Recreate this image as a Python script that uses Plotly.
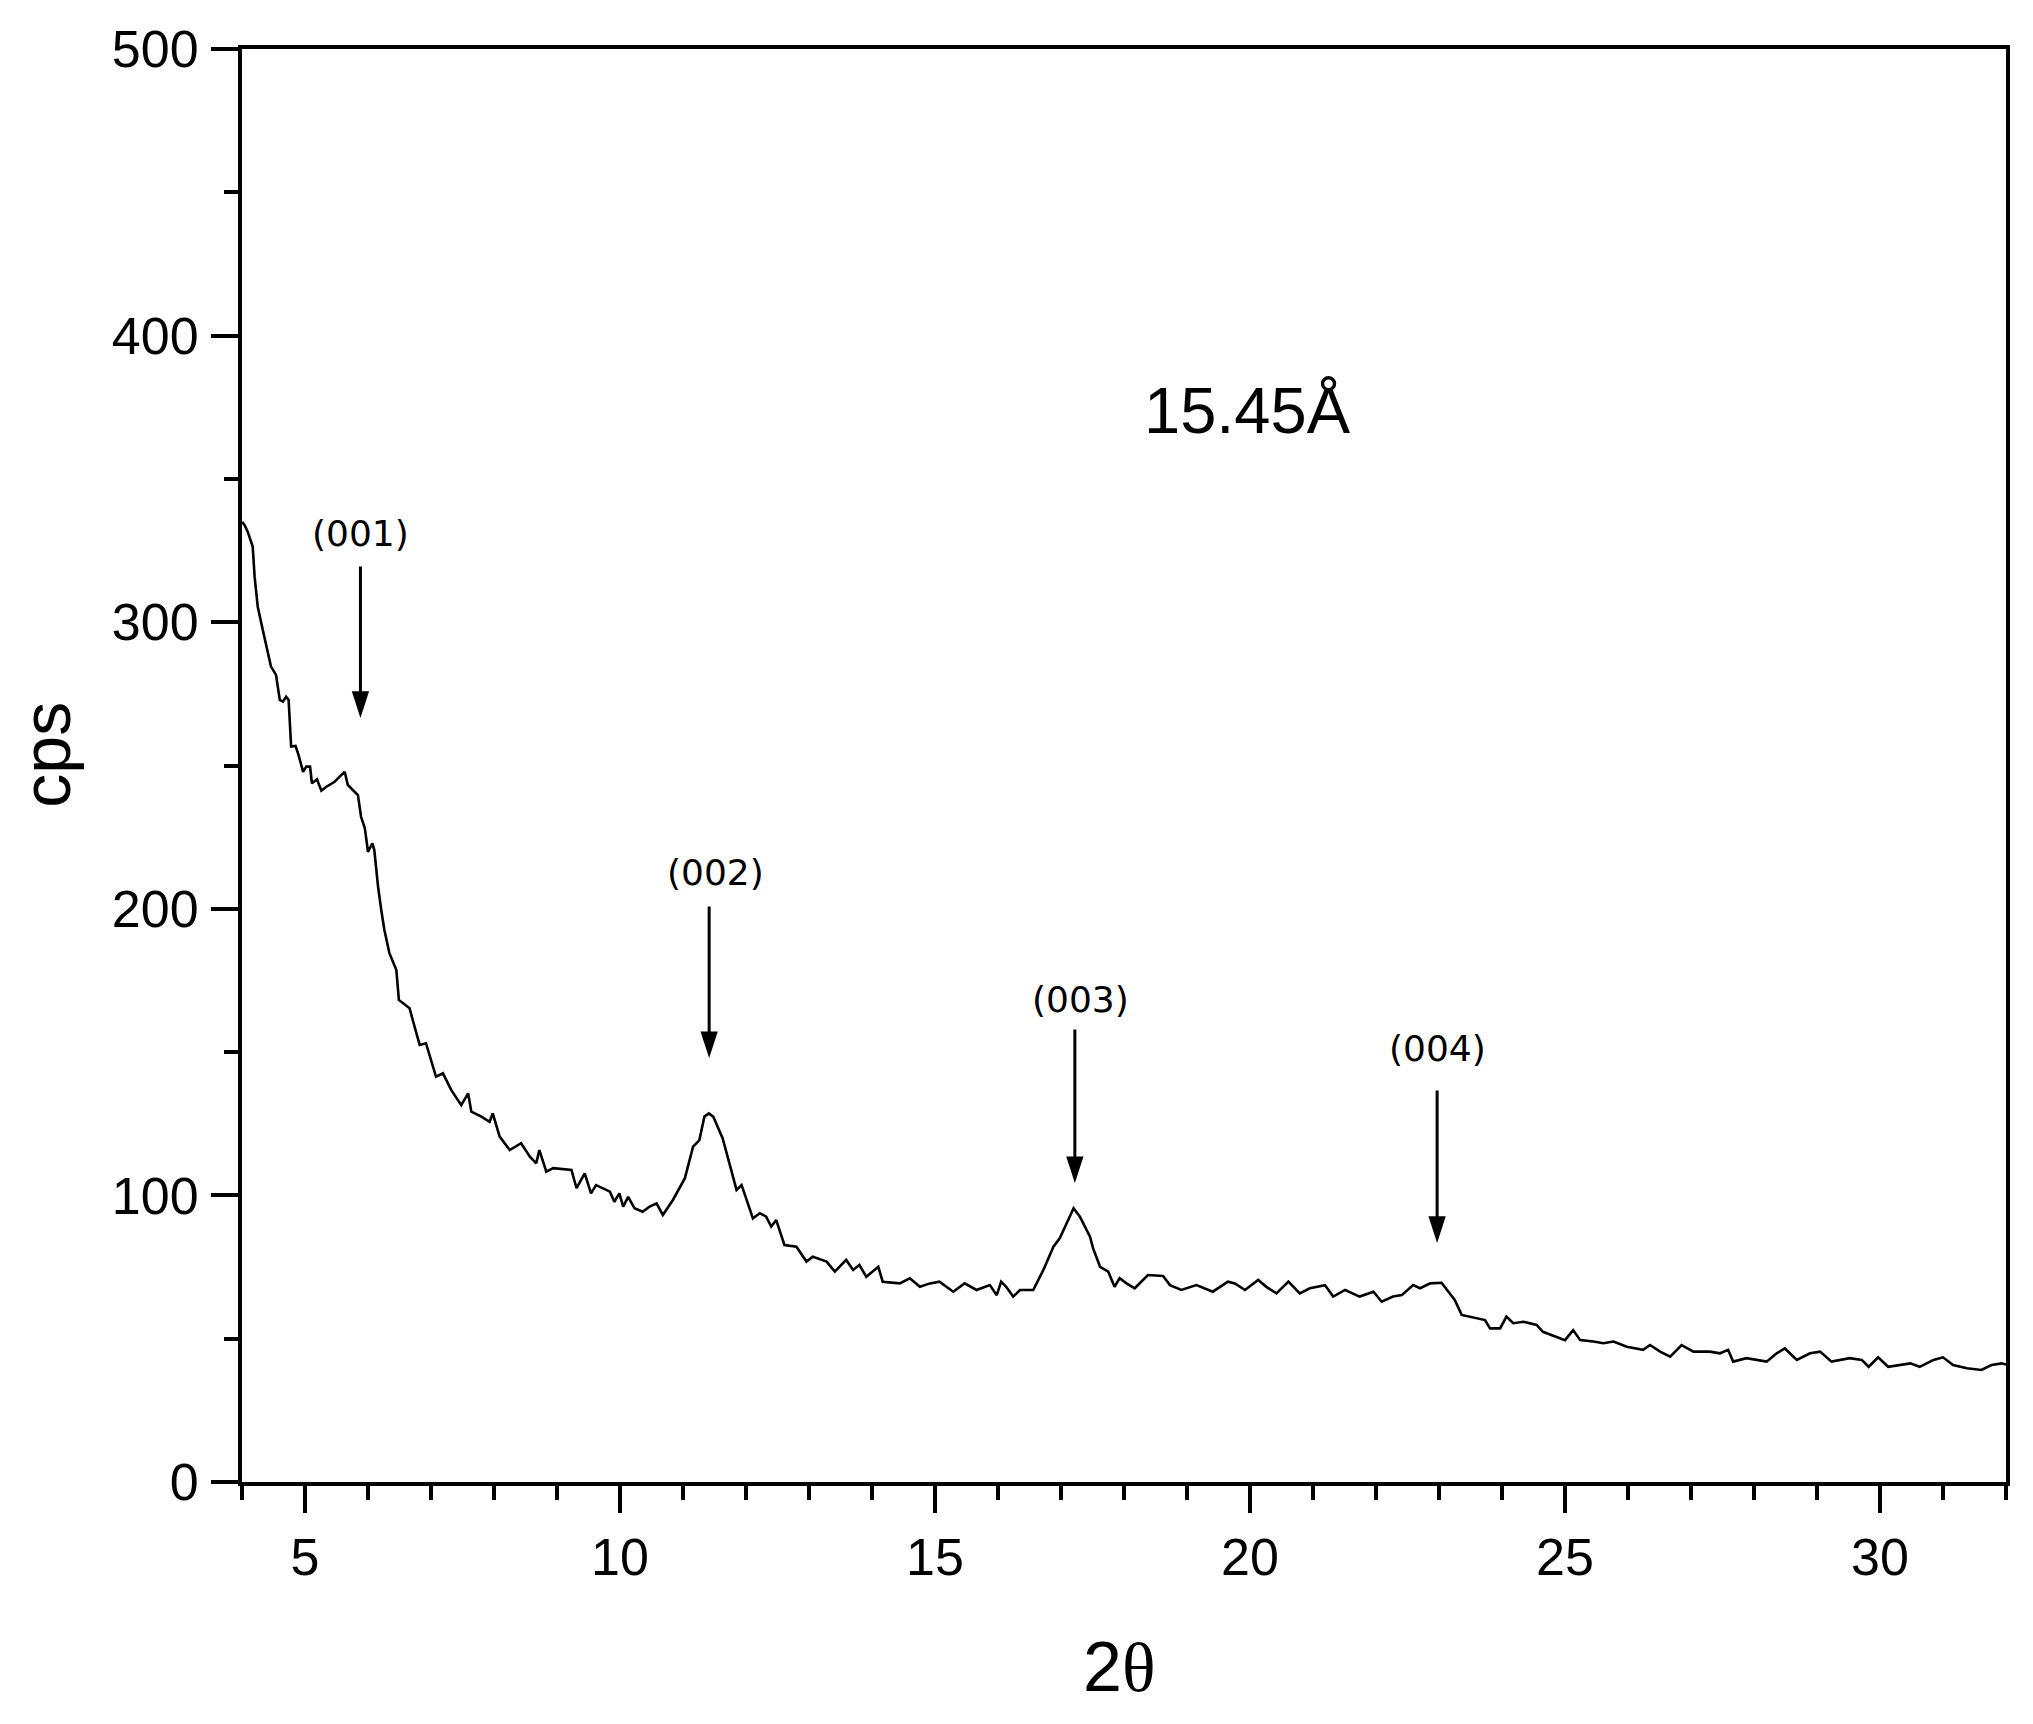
import plotly.graph_objects as go

# ---- data ----
two_theta = [4.00, 4.04, 4.09, 4.17, 4.20, 4.25, 4.33, 4.41, 4.46, 4.54, 4.60, 4.65, 4.70, 4.74, 4.78, 4.85, 4.89, 4.97, 5.02, 5.08,
             5.11, 5.19, 5.26, 5.34, 5.47, 5.55, 5.63, 5.68, 5.84, 5.89, 5.95, 6.00, 6.07, 6.10, 6.16, 6.21, 6.26, 6.34, 6.45, 6.49,
             6.66, 6.71,
             6.82, 6.92, 7.08, 7.19, 7.32, 7.48, 7.59, 7.64, 7.80, 7.93, 7.98, 8.09, 8.25, 8.43, 8.57, 8.67, 8.72, 8.83, 8.94, 9.23,
             9.31, 9.44, 9.54, 9.62, 9.84, 9.91, 9.99, 10.05, 10.13, 10.23, 10.36, 10.47, 10.58, 10.68, 10.84, 11.03, 11.16, 11.26, 11.34, 11.41,
             11.48, 11.63, 11.77, 11.85, 11.93, 12.11, 12.22, 12.32, 12.40, 12.48, 12.61, 12.80, 12.96, 13.06, 13.28, 13.41, 13.59, 13.70, 13.80, 13.91,
             14.10, 14.17,
             14.44, 14.60, 14.76, 14.92, 15.07, 15.29, 15.47, 15.66, 15.87, 15.98, 16.05, 16.13, 16.24, 16.35, 16.56, 16.72, 16.88, 16.98, 17.09, 17.20,
             17.30, 17.38, 17.46, 17.51, 17.62, 17.75, 17.85, 17.93, 18.04, 18.17, 18.38, 18.62, 18.73, 18.91, 19.15, 19.41, 19.65, 19.76, 19.92, 20.13,
             20.26, 20.42, 20.61, 20.79, 20.95, 21.19, 21.32, 21.51,
             21.74, 21.96, 22.09, 22.27, 22.41, 22.59, 22.70, 22.86, 23.04, 23.15, 23.25, 23.36, 23.49, 23.73, 23.81, 23.97, 24.07, 24.18, 24.34, 24.55,
             24.65, 24.87, 25.00, 25.13, 25.24, 25.45, 25.61, 25.77, 25.98, 26.24, 26.35, 26.51, 26.67, 26.85, 27.04, 27.30, 27.46, 27.59, 27.67, 27.88,
             28.20, 28.36, 28.49, 28.68,
             28.89, 29.05, 29.23, 29.52, 29.71, 29.82, 29.97, 30.13, 30.31, 30.48, 30.63, 30.85, 31.00, 31.16, 31.38, 31.61, 31.77, 31.93, 32.00]

cps = [335, 333.9, 331.6, 326.4, 315.9, 305.4, 297.3, 289.1, 284.5, 281.6, 272.9, 272.3, 274.0, 272.9, 256.6, 256.8, 254.2, 247.8, 249.6, 249.6,
       243.8, 245.2, 241.2, 242.6, 244.3, 246.1, 247.8, 243.2, 239.7, 232.1, 228.1, 219.9, 222.8, 220.5, 207.7, 199.6, 192.6, 184.5, 178.6, 168.2,
       165.3, 161.2,
       152.5, 153.1, 141.4, 142.6, 136.8, 131.5, 135.6, 129.2, 127.5, 125.7, 128.6, 120.5, 115.8, 118.2, 113.5, 111.2, 115.8, 108.3, 109.5, 108.9,
       102.5, 107.7, 100.7, 103.6, 101.3, 97.8, 100.7, 96.1, 99.5, 95.5, 94.3, 96.1, 97.2, 93.2, 98.4, 106.0, 117.0, 119.3, 127.5, 128.6,
       127.5, 119.9, 108.9, 101.9, 103.6, 92.0, 93.8, 92.6, 89.1, 91.4, 82.7, 82.1, 76.9, 78.6, 76.9, 73.4, 77.5, 74.0, 75.7, 71.6,
       75.1, 69.9,
       69.3, 71.1, 68.1, 69.3, 69.9, 66.4, 69.3, 67.0, 68.7, 65.2, 69.9, 68.1, 64.7, 67.0, 67.0, 74.0, 82.1, 85.0, 90.3, 95.5,
       92.6, 89.1, 85.6, 81.5, 75.1, 73.4, 68.1, 71.1, 69.3, 67.6, 72.2, 71.9, 68.7, 67.0, 68.7, 66.4, 69.9, 69.3, 67.0, 70.5,
       68.1, 65.8, 69.9, 65.8, 67.6, 68.7, 64.7, 67.0,
       64.7, 66.4, 62.9, 64.7, 65.2, 68.7, 67.6, 69.3, 69.5, 66.4, 63.5, 58.3, 57.7, 56.5, 53.6, 53.6, 57.7, 55.4, 55.9, 54.8,
       52.4, 50.7, 49.5, 53.0, 49.5, 49.0, 48.4, 49.0, 47.2, 46.1, 47.8, 45.5, 43.7, 47.8, 45.5, 45.5, 44.9, 46.1, 42.0, 43.2,
       42.0, 44.9, 46.6, 42.6,
       44.9, 45.5, 42.0, 43.2, 42.6, 40.2, 43.5, 40.2, 40.8, 41.4, 40.2, 42.6, 43.5, 40.8, 39.7, 39.1, 40.8, 41.4, 41.0]

assert len(two_theta) == len(cps)

peak_labels = ["(001)", "(002)", "(003)", "(004)"]
peak_pos = [5.88, 11.415, 17.22, 22.97]
arrow_tip = [266.6, 147.9, 104.3, 83.4]
arrow_tail = [320.0, 201.3, 158.4, 137.1]
label_y = [331.1, 212.5, 168.2, 151.1]
label_x = [5.88, 11.52, 17.31, 22.97]

x_ticks = [5, 10, 15, 20, 25, 30]
y_ticks = [0, 100, 200, 300, 400, 500]

spacing_text = "15.45Å"

# ---- figure ----
fig = go.Figure()
fig.add_trace(go.Scatter(x=two_theta, y=cps, mode="lines",
                         line=dict(color="black", width=2.6), showlegend=False,
                         hoverinfo="x+y"))

# arrow heads at the peak markers
fig.add_trace(go.Scatter(x=peak_pos, y=arrow_tip, mode="markers",
                         marker=dict(symbol="arrow", angle=180, size=28, color="black",
                                     line=dict(width=0)),
                         showlegend=False, hoverinfo="skip"))

tick_font = dict(family="Liberation Sans, Arial, sans-serif", size=52, color="black")

fig.update_xaxes(range=[4, 32], tickvals=x_ticks, ticktext=[str(v) for v in x_ticks],
                 ticks="outside", ticklen=27, tickwidth=4, tickcolor="black",
                 minor=dict(ticks="outside", ticklen=14, tickwidth=4, tickcolor="black", dtick=1, tick0=4),
                 showline=True, linewidth=4, linecolor="black", mirror=True,
                 showgrid=False, zeroline=False, tickfont=tick_font, ticklabelstandoff=0)
fig.update_yaxes(range=[0, 500], tickvals=y_ticks, ticktext=[str(v) for v in y_ticks],
                 ticks="outside", ticklen=27, tickwidth=4, tickcolor="black",
                 minor=dict(ticks="outside", ticklen=14, tickwidth=4, tickcolor="black", dtick=50, tick0=0),
                 showline=True, linewidth=4, linecolor="black", mirror=True,
                 showgrid=False, zeroline=False, tickfont=tick_font, ticklabelstandoff=2)

annotations = []
for lab, px, tip, tail, lx, ly in zip(peak_labels, peak_pos, arrow_tip, arrow_tail, label_x, label_y):
    annotations.append(dict(x=px, y=tip, ax=px, ay=tail, xref="x", yref="y", axref="x", ayref="y",
                            text="", showarrow=True, arrowhead=0, arrowwidth=3,
                            arrowcolor="black", standoff=8))
    annotations.append(dict(x=lx, y=ly, xref="x", yref="y", text=lab, showarrow=False,
                            font=dict(family="DejaVu Sans", size=36, color="black"),
                            xanchor="center", yanchor="middle"))

annotations.append(dict(x=19.955, y=374, xref="x", yref="y", text=spacing_text, showarrow=False,
                        font=dict(family="Liberation Sans, Arial, sans-serif", size=65, color="black"),
                        xanchor="center", yanchor="middle"))

# axis titles
annotations.append(dict(x=-0.111, y=0.5077, xref="paper", yref="paper", text="cps", textangle=-90,
                        showarrow=False, xanchor="center", yanchor="middle",
                        font=dict(family="Liberation Sans, Arial, sans-serif", size=68, color="black")))
annotations.append(dict(x=0.4974, y=-0.129, xref="paper", yref="paper",
                        text="2<span style='font-family:Liberation Serif, Times New Roman, serif'>θ</span>",
                        showarrow=False, xanchor="center", yanchor="middle",
                        font=dict(family="Liberation Sans, Arial, sans-serif", size=70, color="black")))

fig.update_layout(width=2025, height=1716,
                  margin=dict(l=234, r=27, t=41, b=242),
                  paper_bgcolor="white", plot_bgcolor="white",
                  annotations=annotations, showlegend=False)

fig.write_html("out.html")
